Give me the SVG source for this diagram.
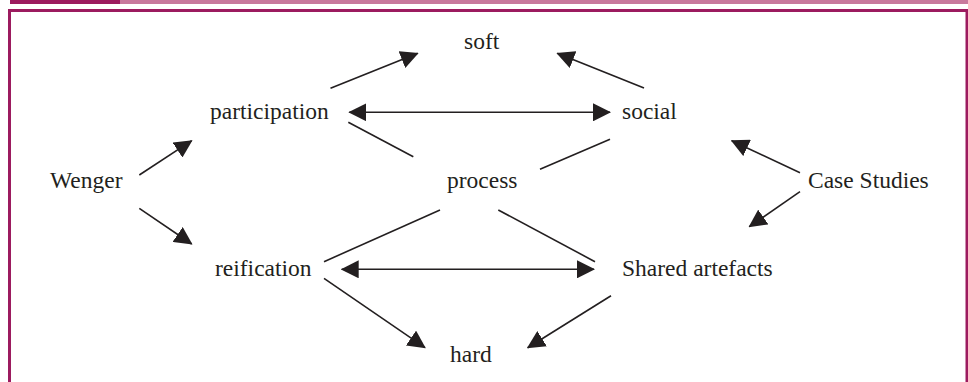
<svg xmlns="http://www.w3.org/2000/svg" width="968" height="382" viewBox="0 0 968 382">
  <style>
    .lbl { font-family: 'Liberation Serif', Tinos, 'Times New Roman', Times, 'DejaVu Serif', 'Noto Serif', serif; font-size: 23.5px; fill: #231f20; }
    .c { stroke: #231f20; stroke-width: 1.6; fill: none; }
    .a { marker-end: url(#ah); }
    .d { marker-start: url(#ah); marker-end: url(#ah); }
  </style>
  <defs>
    <marker id="ah" viewBox="0 0 18 18" refX="17" refY="9" markerWidth="18" markerHeight="18" markerUnits="userSpaceOnUse" orient="auto-start-reverse">
      <path d="M0,0 L18,9 L0,18 z" fill="#231f20"/>
    </marker>
  </defs>
  <rect width="968" height="382" fill="#ffffff"/>
  <g id="frame">
    <rect x="10" y="0" width="110" height="4" fill="#9c1b5f"/>
    <rect x="120" y="0" width="848" height="4" fill="#c8799d"/>
    <path d="M9.5,382 V10.5 H967 V382" fill="none" stroke="#9c1b5f" stroke-width="3"/>
  </g>
  <g id="connectors">
    <line class="c a" x1="330.5" y1="88.3" x2="417.7" y2="53.3"/>
    <line class="c a" x1="644" y1="88" x2="557.3" y2="53.3"/>
    <line class="c d" x1="349.3" y1="112.3" x2="610" y2="112.3"/>
    <line class="c" x1="348.3" y1="122.3" x2="413.3" y2="156.7"/>
    <line class="c" x1="540" y1="169.3" x2="610" y2="139.3"/>
    <line class="c" x1="324" y1="261.7" x2="440" y2="210"/>
    <line class="c" x1="498.3" y1="210" x2="595" y2="261.7"/>
    <line class="c d" x1="341.7" y1="269.3" x2="594" y2="269.3"/>
    <line class="c a" x1="324" y1="278.3" x2="425" y2="347.7"/>
    <line class="c a" x1="611" y1="295.7" x2="527.7" y2="347.7"/>
    <line class="c a" x1="139.3" y1="175" x2="191.7" y2="140.7"/>
    <line class="c a" x1="139.3" y1="208.3" x2="191.7" y2="244"/>
    <line class="c a" x1="800" y1="172.7" x2="731.7" y2="140.7"/>
    <line class="c a" x1="800" y1="191.7" x2="749.3" y2="226.7"/>
  </g>
  <g id="soft"><text class="lbl" font-family="Liberation Serif, serif" x="464" y="49">soft</text></g>
  <g id="participation"><text class="lbl" font-family="Liberation Serif, serif" x="210" y="119">participation</text></g>
  <g id="social"><text class="lbl" font-family="Liberation Serif, serif" x="622" y="119">social</text></g>
  <g id="wenger"><text class="lbl" font-family="Liberation Serif, serif" x="50" y="188">Wenger</text></g>
  <g id="process"><text class="lbl" font-family="Liberation Serif, serif" x="447" y="188">process</text></g>
  <g id="case-studies"><text class="lbl" font-family="Liberation Serif, serif" x="808" y="188">Case Studies</text></g>
  <g id="reification"><text class="lbl" font-family="Liberation Serif, serif" x="215" y="276">reification</text></g>
  <g id="shared-artefacts"><text class="lbl" font-family="Liberation Serif, serif" x="622" y="276">Shared artefacts</text></g>
  <g id="hard"><text class="lbl" font-family="Liberation Serif, serif" x="450" y="362">hard</text></g>
</svg>
